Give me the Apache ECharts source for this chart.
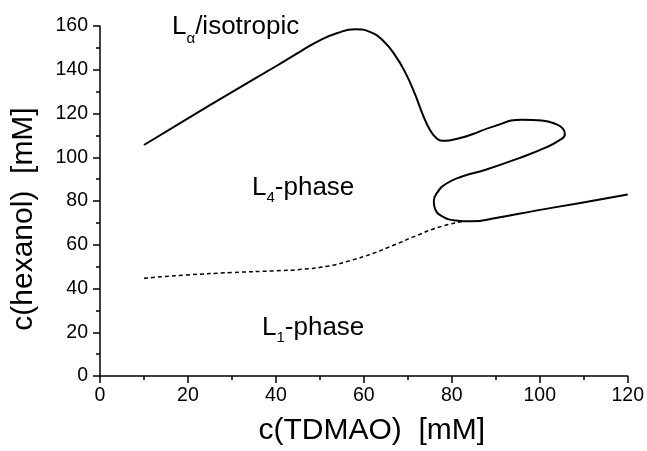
<!DOCTYPE html>
<html><head><meta charset="utf-8">
<script src="https://cdn.jsdelivr.net/npm/echarts@6/dist/echarts.min.js"></script>
<style>html,body{margin:0;padding:0;background:#fff}#c{width:647px;height:451px}</style>
</head><body><div id="c"></div>
<script>
// Solid phase boundary (L_alpha / L4 / L1), traced in order
const solidX = [10, 20, 30, 40, 46, 50, 54, 58, 61.5, 64.5, 67.3, 69.6, 71.6, 73.4, 75, 76.4, 77.8, 79.4, 81.5, 84.5, 89.2, 96, 100.5, 103.6, 105.3, 105.7, 104.5, 101.3, 95.3, 87.7, 82, 78.8, 76.8, 75.9, 76.3, 77.9, 80.8, 84.5, 90, 99.1, 108.9, 120];
const solidY = [105.6, 117.8, 129.8, 141.6, 148.9, 153.4, 156.8, 158.5, 157.2, 153, 146, 138, 129, 119.5, 112.6, 108.9, 107.5, 107.7, 108.6, 110.4, 113.9, 117.2, 116.8, 115.2, 113, 110.4, 107.8, 104.4, 99.6, 94.3, 91, 88, 84.2, 79.8, 75.8, 72.9, 71.1, 70.7, 72.2, 75.6, 79, 83];
// Dashed boundary (L1 / L4)
const dashX = [10, 20, 30, 40, 46, 52, 57, 62, 67, 72, 77, 82.5];
const dashY = [44.7, 46.2, 47.3, 48.1, 48.8, 50.3, 52.8, 56, 60, 64.2, 68, 70.7];
const xTicks = [0, 20, 40, 60, 80, 100, 120];
const yTicks = [0, 20, 40, 60, 80, 100, 120, 140, 160];

const FONT = '"Liberation Sans", Arial, Helvetica, sans-serif';
const chart = echarts.init(document.getElementById('c'));

function zip(a, b) { return a.map((v, i) => [v, b[i]]); }

const mctx = document.createElement('canvas').getContext('2d');
function tw(t, size) { mctx.font = size + 'px ' + FONT; return mctx.measureText(t).width; }

// label with subscript: left x, baseline y
function subLabel(x, base, main, sub, rest, size, subSize, drop) {
  const w1 = tw(main, size), w2 = tw(sub, subSize);
  const mk = (t, xx, yy, s) => ({
    type: 'text', left: xx, top: yy - s * 0.9,
    style: { text: t, font: s + 'px ' + FONT, fill: '#000' }
  });
  return [mk(main, x, base, size), mk(sub, x + w1, base + drop, subSize), mk(rest, x + w1 + w2, base, size)];
}

const graphics = [].concat(
  subLabel(172, 37, 'L', 'α', '/isotropic', 26, 15, 8),
  subLabel(252, 198, 'L', '4', '-phase', 26, 15, 6),
  subLabel(262, 338, 'L', '1', '-phase', 26, 15, 6)
);

chart.setOption({
  animation: false,
  backgroundColor: '#fff',
  grid: { left: 100, right: 18, top: 26, bottom: 70, containLabel: false },
  xAxis: {
    type: 'value', min: 0, max: 120, interval: 20,
    name: 'c(TDMAO)  [mM]', nameLocation: 'middle', nameGap: 40,
    nameTextStyle: { fontFamily: FONT, fontSize: 30, color: '#000', padding: [0, 0, 0, 16] },
    axisLine: { show: true, onZero: false, lineStyle: { color: '#000', width: 1.5 } },
    axisTick: { show: true, length: 7, lineStyle: { color: '#000', width: 1.5 } },
    minorTick: { show: true, splitNumber: 2, length: 4, lineStyle: { color: '#000', width: 1.5 } },
    axisLabel: { fontFamily: FONT, fontSize: 19.5, color: '#000', margin: 10,
      formatter: v => xTicks.includes(v) ? String(v) : '' },
    splitLine: { show: false }
  },
  yAxis: {
    type: 'value', min: 0, max: 160, interval: 20,
    name: 'c(hexanol)  [mM]', nameLocation: 'middle', nameGap: 61, nameRotate: 90,
    nameTextStyle: { fontFamily: FONT, fontSize: 30, color: '#000', padding: [0, 36, 0, 0] },
    axisLine: { show: true, onZero: false, lineStyle: { color: '#000', width: 1.5 } },
    axisTick: { show: true, length: 7, lineStyle: { color: '#000', width: 1.5 } },
    minorTick: { show: true, splitNumber: 2, length: 4, lineStyle: { color: '#000', width: 1.5 } },
    axisLabel: { fontFamily: FONT, fontSize: 19.5, color: '#000', margin: 12,
      formatter: v => yTicks.includes(v) ? String(v) : '' },
    splitLine: { show: false }
  },
  series: [
    { type: 'line', data: zip(solidX, solidY), smooth: 0.5, symbol: 'none',
      lineStyle: { color: '#000', width: 2 } },
    { type: 'line', data: zip(dashX, dashY), smooth: 0.5, symbol: 'none',
      lineStyle: { color: '#000', width: 1.5, type: [4, 3] } }
  ],
  graphic: graphics
});
</script>
</body></html>
